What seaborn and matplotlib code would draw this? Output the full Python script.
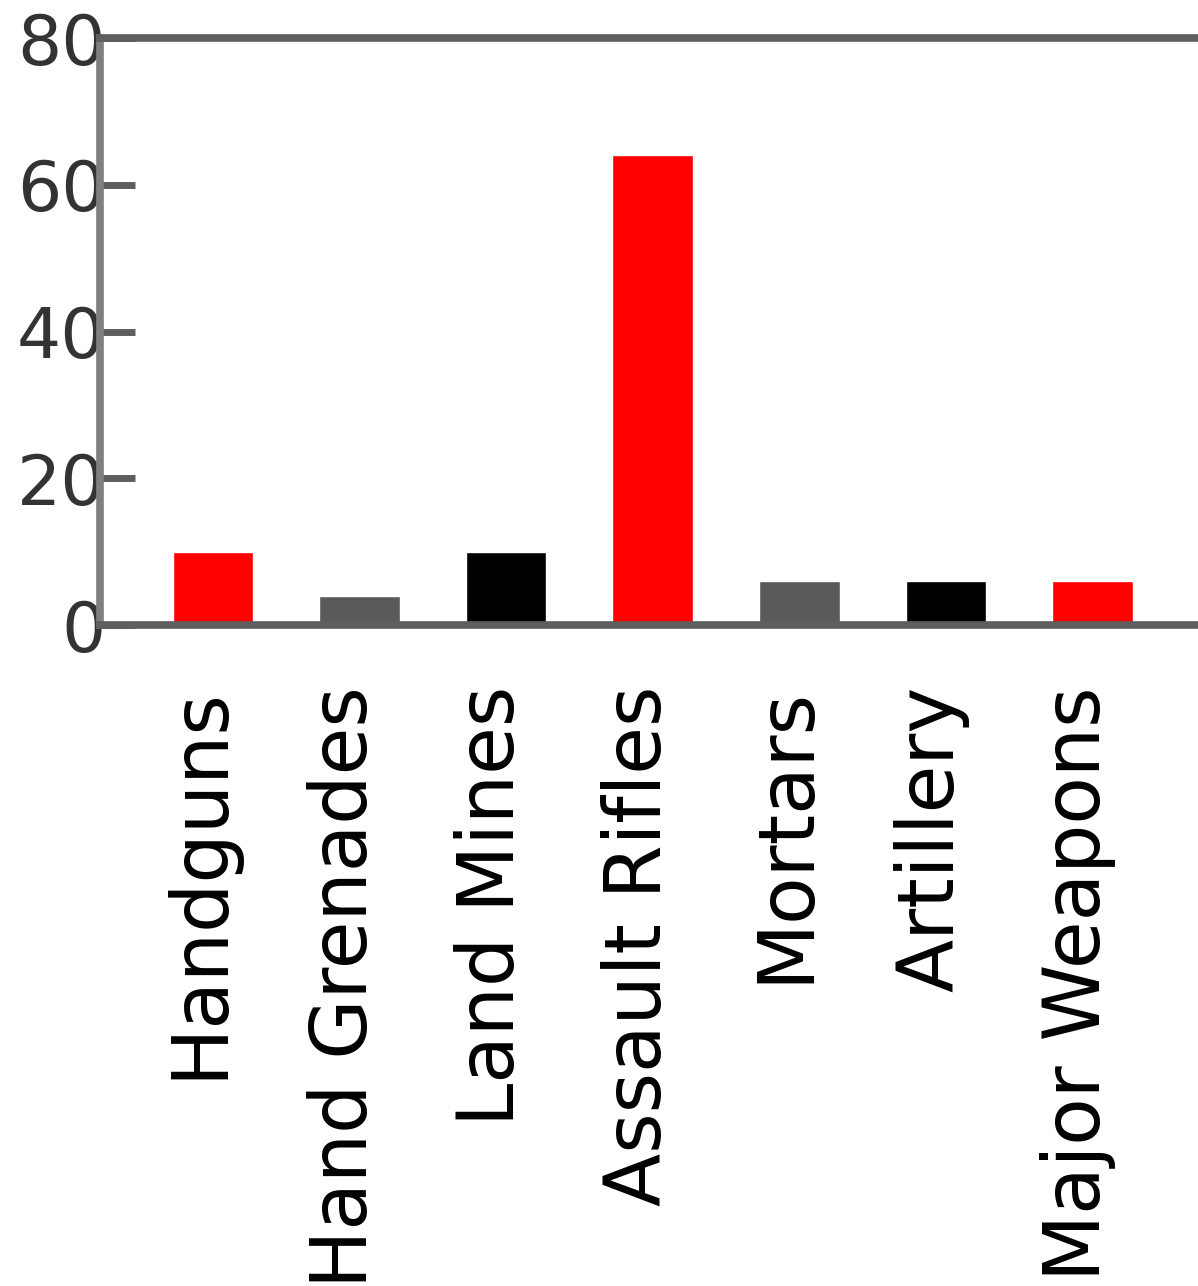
import matplotlib
matplotlib.use("Agg")
import matplotlib.pyplot as plt
import matplotlib.transforms as mtransforms
import seaborn as sns
import pandas as pd

categories = ["Handguns", "Hand Grenades", "Land Mines", "Assault Rifles",
              "Mortars", "Artillery", "Major Weapons"]
values = [10, 4, 10, 64, 6, 6, 6]
bar_colors = ["#ff0000", "#5a5a5a", "#000000", "#ff0000", "#5a5a5a", "#000000", "#ff0000"]
y_ticks = [0, 20, 40, 60, 80]

sns.set_theme(style="white")
plt.rcParams['font.family'] = ['DejaVu Sans']

df = pd.DataFrame({"cat": categories, "val": values})

fig = plt.figure(figsize=(11.98, 12.86), dpi=100)
ax = fig.add_axes([100/1198, 1 - 625/1286, 1 - 100/1198, (625 - 38)/1286])

sns.barplot(data=df, x="cat", y="val", hue="cat", palette=bar_colors,
            legend=False, width=0.55, ax=ax, saturation=1)

ax.set_xlim(-0.77, 6.72)
ax.set_ylim(0, 80)
ax.set_yticks(y_ticks)
ax.set_xlabel("")
ax.set_ylabel("")

ax.spines["left"].set_color("#7f7f7f")
ax.spines["left"].set_linewidth(5.5)
for s in ["bottom", "top"]:
    ax.spines[s].set_color("#5e5e5e")
    ax.spines[s].set_linewidth(5.5)
ax.spines["right"].set_visible(False)

ax.tick_params(axis="y", direction="in", length=25, width=5, color="#5e5e5e",
               labelsize=50, labelcolor="#333333", pad=-4, left=True)
ax.tick_params(axis="x", length=0, pad=44, labelsize=56, labelcolor="black")
offset = mtransforms.ScaledTranslation(-14/100, 0, fig.dpi_scale_trans)
for lab in ax.get_xticklabels():
    lab.set_rotation(90)
    lab.set_va("top")
    lab.set_ha("center")
    lab.set_transform(lab.get_transform() + offset)

fig.savefig("out.png", dpi=100)
